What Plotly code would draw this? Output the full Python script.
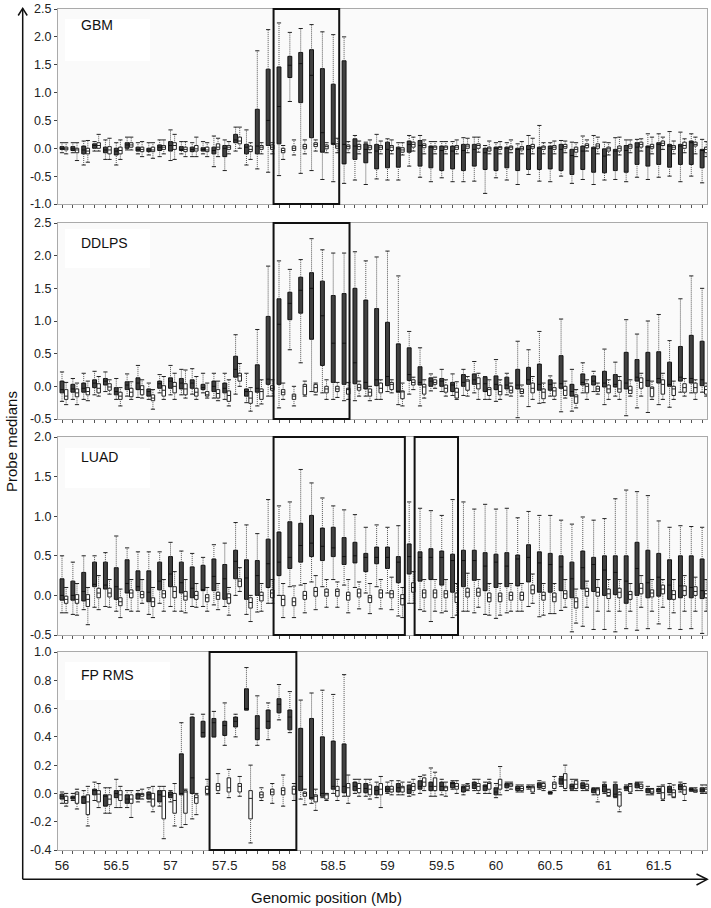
import plotly.graph_objects as go

# ---------------- data ----------------
positions = [56.0, 56.1, 56.2, 56.3, 56.4, 56.5, 56.6, 56.7, 56.8, 56.9,
             57.0, 57.1, 57.2, 57.3, 57.4, 57.5, 57.6, 57.7, 57.8, 57.9,
             58.0, 58.1, 58.2, 58.3, 58.4, 58.5, 58.6, 58.7, 58.8, 58.9,
             59.0, 59.1, 59.2, 59.3, 59.4, 59.5, 59.6, 59.7, 59.8, 59.9,
             60.0, 60.1, 60.2, 60.3, 60.4, 60.5, 60.6, 60.7, 60.8, 60.9,
             61.0, 61.1, 61.2, 61.3, 61.4, 61.5, 61.6, 61.7, 61.8, 61.9]

x_tick_vals = [56, 56.5, 57, 57.5, 58, 58.5, 59, 59.5, 60, 60.5, 61, 61.5]
x_tick_text = ["56", "56.5", "57", "57.5", "58", "58.5", "59", "59.5", "60", "60.5", "61", "61.5"]

# ---- GBM ----
gbm_t_q1 = [-0.02, -0.04, -0.1, 0.0, -0.08, -0.12, 0.0, -0.05, -0.06, -0.04, -0.05, -0.04, -0.06, -0.05, -0.1, -0.15, 0.1, -0.1, -0.1, 0.05,
            0.08, 1.27, 0.82, 0.19, -0.07, 0.07, -0.28, -0.2, -0.26, -0.37, -0.35, -0.34, -0.07, -0.32, -0.35, -0.4, -0.37, -0.4, -0.32, -0.38,
            -0.4, -0.35, -0.4, -0.38, -0.38, -0.37, -0.4, -0.47, -0.38, -0.43, -0.44, -0.4, -0.43, -0.29, -0.32, -0.29, -0.34, -0.29, -0.29, -0.35]
gbm_t_med = [0.0, -0.01, -0.03, 0.05, -0.03, -0.05, 0.06, -0.02, -0.03, 0.02, 0.05, -0.02, -0.02, -0.02, -0.04, 0.0, 0.15, 0.02, 0.04, 0.5,
             0.75, 1.49, 1.52, 1.31, 0.28, 0.07, 0.07, 0.04, -0.02, -0.05, -0.02, -0.01, 0.07, 0.05, 0.02, -0.04, -0.05, -0.04, -0.02, -0.08,
             0.0, 0.0, -0.02, -0.02, 0.0, 0.0, -0.02, -0.13, -0.05, 0.0, -0.14, -0.05, -0.04, 0.02, 0.02, 0.07, 0.04, 0.04, 0.1, -0.04]
gbm_t_q3 = [0.03, 0.03, 0.04, 0.08, 0.02, 0.0, 0.1, 0.02, 0.0, 0.06, 0.12, 0.03, 0.02, 0.01, 0.02, 0.05, 0.25, 0.07, 0.7, 1.42,
            1.46, 1.65, 1.72, 1.77, 1.43, 1.15, 1.57, 0.17, 0.08, 0.07, 0.11, 0.02, 0.13, 0.14, 0.04, 0.04, 0.04, 0.07, 0.07, 0.0,
            0.02, 0.02, 0.0, 0.05, 0.02, 0.04, 0.07, -0.02, 0.04, 0.02, -0.01, -0.02, 0.05, 0.1, 0.04, 0.1, 0.07, 0.07, 0.13, -0.02]
gbm_t_lo = [-0.08, -0.08, -0.3, -0.05, -0.2, -0.3, -0.03, -0.1, -0.12, -0.15, -0.22, -0.1, -0.15, -0.1, -0.33, -0.4, -0.05, -0.3, -0.37, -0.43,
            -0.49, 0.84, -0.45, -0.4, -0.56, -0.6, -0.63, -0.57, -0.65, -0.55, -0.57, -0.57, -0.32, -0.52, -0.6, -0.53, -0.6, -0.6, -0.59, -0.81,
            -0.53, -0.57, -0.65, -0.47, -0.59, -0.6, -0.5, -0.63, -0.56, -0.65, -0.57, -0.56, -0.6, -0.52, -0.56, -0.52, -0.5, -0.6, -0.5, -0.62]
gbm_t_hi = [0.1, 0.1, 0.13, 0.12, 0.15, 0.1, 0.2, 0.1, 0.1, 0.15, 0.33, 0.12, 0.1, 0.12, 0.22, 0.15, 0.38, 0.33, 1.75, 2.13,
            2.25, 2.08, 2.15, 2.22, 2.09, 2.04, 2.0, 0.23, 0.11, 0.25, 0.17, 0.1, 0.23, 0.23, 0.12, 0.12, 0.12, 0.19, 0.2, 0.05,
            0.1, 0.1, 0.08, 0.23, 0.41, 0.1, 0.14, 0.11, 0.22, 0.23, 0.11, 0.19, 0.15, 0.16, 0.26, 0.26, 0.3, 0.29, 0.26, 0.16]
gbm_n_q1 = [-0.03, -0.08, -0.1, 0.0, -0.1, -0.1, 0.02, -0.06, -0.06, -0.02, -0.02, -0.06, -0.05, -0.06, -0.02, -0.02, 0.08, -0.06, -0.02, -0.02,
            -0.08, -0.04, -0.01, 0.03, -0.01, 0.0, -0.01, -0.02, -0.02, -0.02, -0.04, -0.07, 0.02, 0.01, -0.02, -0.02, -0.02, 0.0, 0.0, -0.05,
            -0.02, -0.02, -0.03, 0.0, -0.02, -0.02, 0.0, -0.07, 0.01, 0.0, -0.05, -0.05, 0.0, 0.02, 0.0, 0.05, -0.02, 0.0, 0.04, -0.08]
gbm_n_med = [-0.01, -0.03, -0.05, 0.05, -0.03, -0.04, 0.06, -0.02, -0.03, 0.02, 0.05, -0.02, -0.01, -0.03, 0.02, 0.02, 0.13, -0.02, 0.02, 0.02,
             -0.04, 0.0, 0.03, 0.07, 0.03, 0.04, 0.03, 0.03, 0.02, 0.02, 0.02, -0.03, 0.07, 0.05, 0.02, 0.02, 0.02, 0.04, 0.05, -0.01,
             0.02, 0.02, 0.0, 0.03, 0.02, 0.02, 0.03, -0.02, 0.05, 0.04, -0.01, 0.0, 0.04, 0.07, 0.03, 0.09, 0.02, 0.05, 0.07, -0.02]
gbm_n_q3 = [0.02, 0.0, 0.0, 0.1, 0.03, 0.02, 0.1, 0.02, 0.02, 0.05, 0.1, 0.02, 0.05, 0.02, 0.08, 0.05, 0.2, 0.04, 0.05, 0.06,
            0.0, 0.04, 0.07, 0.1, 0.06, 0.08, 0.06, 0.07, 0.05, 0.05, 0.05, 0.01, 0.11, 0.08, 0.04, 0.04, 0.05, 0.07, 0.08, 0.02,
            0.03, 0.04, 0.03, 0.07, 0.04, 0.05, 0.07, 0.02, 0.08, 0.08, 0.02, 0.04, 0.07, 0.11, 0.07, 0.13, 0.05, 0.11, 0.11, 0.02]
gbm_n_lo = [-0.1, -0.22, -0.25, -0.05, -0.2, -0.2, -0.03, -0.15, -0.18, -0.1, -0.2, -0.15, -0.15, -0.15, -0.15, -0.1, 0.0, -0.2, -0.1, -0.1,
            -0.2, -0.12, -0.1, -0.05, -0.08, -0.08, -0.08, -0.1, -0.08, -0.1, -0.1, -0.12, -0.05, -0.1, -0.1, -0.1, -0.1, -0.08, -0.07, -0.1,
            -0.1, -0.08, -0.1, -0.1, -0.1, -0.1, -0.08, -0.15, -0.05, -0.1, -0.12, -0.12, -0.08, -0.05, -0.1, -0.02, -0.1, -0.08, -0.1, -0.15]
gbm_n_hi = [0.1, 0.1, 0.14, 0.25, 0.18, 0.15, 0.2, 0.12, 0.1, 0.15, 0.25, 0.12, 0.2, 0.1, 0.18, 0.12, 0.38, 0.1, 0.1, 0.1,
            0.05, 0.15, 0.15, 0.15, 0.1, 0.18, 0.12, 0.13, 0.15, 0.13, 0.15, 0.1, 0.2, 0.15, 0.12, 0.12, 0.15, 0.18, 0.2, 0.13,
            0.12, 0.15, 0.12, 0.18, 0.1, 0.13, 0.13, 0.1, 0.15, 0.2, 0.1, 0.2, 0.15, 0.17, 0.2, 0.2, 0.13, 0.17, 0.2, 0.12]

# ---- DDLPS ----
ddlps_t_q1 = [-0.1, -0.09, -0.09, -0.02, 0.02, -0.13, -0.05, -0.05, -0.15, -0.03, -0.03, -0.04, -0.03, -0.05, -0.08, -0.1, 0.14, -0.15, -0.09, 0.03,
              0.03, 1.02, 1.12, 0.72, 0.32, 0.06, 0.03, 0.04, -0.04, 0.01, 0.01, -0.09, 0.09, 0.02, 0.0, 0.0, -0.08, 0.0, 0.03, -0.08,
              -0.05, -0.04, -0.04, 0.03, -0.06, -0.06, -0.03, -0.15, 0.02, 0.02, -0.01, -0.01, -0.04, 0.08, 0.0, 0.05, 0.0, 0.08, 0.05, 0.01]
ddlps_t_med = [-0.05, -0.04, -0.03, 0.05, 0.08, -0.08, 0.02, 0.05, -0.08, 0.04, 0.08, 0.05, 0.05, -0.02, 0.0, -0.03, 0.26, -0.08, -0.03, 0.11,
               0.95, 1.27, 1.47, 1.5, 1.08, 0.66, 0.66, 0.36, 0.06, 0.1, 0.15, -0.08, 0.18, 0.06, 0.08, 0.08, 0.02, 0.06, 0.1, 0.04,
               0.03, 0.02, 0.02, 0.1, 0.03, 0.03, 0.04, -0.08, 0.06, 0.08, 0.05, 0.03, 0.05, 0.14, 0.09, 0.12, 0.03, 0.14, 0.12, 0.1]
ddlps_t_q3 = [0.08, 0.03, 0.05, 0.1, 0.12, -0.02, 0.07, 0.13, -0.04, 0.08, 0.13, 0.12, 0.1, 0.03, 0.08, 0.05, 0.46, -0.04, 0.33, 1.07,
              1.34, 1.44, 1.67, 1.74, 1.61, 1.39, 1.42, 1.5, 1.32, 1.19, 0.98, 0.65, 0.59, 0.3, 0.13, 0.12, 0.06, 0.18, 0.19, 0.14,
              0.16, 0.14, 0.26, 0.29, 0.34, 0.1, 0.47, 0.03, 0.19, 0.16, 0.23, 0.18, 0.52, 0.41, 0.52, 0.53, 0.37, 0.61, 0.78, 0.69]
ddlps_t_lo = [-0.23, -0.2, -0.2, -0.13, -0.08, -0.2, -0.15, -0.17, -0.2, -0.1, -0.13, -0.13, -0.12, -0.1, -0.18, -0.2, -0.12, -0.25, -0.3, -0.15,
              -0.33, 0.56, 0.36, -0.08, -0.1, -0.2, -0.22, -0.22, -0.15, -0.2, -0.08, -0.28, -0.12, -0.3, -0.07, -0.08, -0.14, -0.14, -0.1, -0.2,
              -0.23, -0.13, -0.48, -0.31, -0.26, -0.15, -0.39, -0.38, -0.1, -0.08, -0.28, -0.15, -0.45, -0.33, -0.4, -0.28, -0.32, -0.09, -0.1, -0.09]
ddlps_t_hi = [0.22, 0.12, 0.2, 0.23, 0.22, 0.12, 0.19, 0.32, 0.05, 0.18, 0.32, 0.26, 0.27, 0.2, 0.2, 0.2, 0.79, 0.2, 0.87, 1.84,
              1.92, 1.79, 1.94, 2.26, 2.09, 2.04, 2.04, 2.06, 1.92, 1.98, 2.07, 1.69, 0.84, 0.59, 0.19, 0.26, 0.19, 0.26, 0.38, 0.15,
              0.41, 0.2, 0.69, 0.56, 0.84, 0.16, 1.03, 0.26, 0.36, 0.23, 0.57, 0.37, 1.02, 0.8, 1.0, 1.1, 0.7, 1.34, 1.69, 1.5]
ddlps_n_q1 = [-0.2, -0.16, -0.13, -0.1, -0.06, -0.2, -0.16, -0.13, -0.22, -0.15, -0.1, -0.13, -0.15, -0.15, -0.18, -0.23, 0.08, -0.26, -0.2, -0.06,
              -0.13, -0.2, -0.13, -0.09, -0.1, -0.08, -0.12, -0.06, -0.15, -0.1, -0.05, -0.19, 0.02, -0.12, 0.03, -0.09, -0.18, -0.06, -0.04, -0.14,
              -0.13, -0.1, -0.11, -0.1, -0.19, -0.15, -0.14, -0.26, -0.1, -0.08, -0.1, -0.09, -0.11, -0.03, -0.16, -0.12, -0.14, -0.09, -0.1, -0.12]
ddlps_n_med = [-0.15, -0.1, -0.08, -0.03, -0.01, -0.15, -0.09, -0.05, -0.18, -0.06, 0.0, -0.04, -0.09, -0.13, -0.11, -0.14, 0.16, -0.18, -0.08, -0.03,
               -0.09, -0.15, 0.0, -0.02, -0.04, -0.04, -0.05, -0.02, -0.09, -0.03, 0.03, -0.08, 0.06, -0.01, 0.06, -0.03, -0.09, 0.08, 0.04, -0.05,
               -0.08, -0.06, -0.08, -0.03, -0.09, -0.07, -0.06, -0.16, 0.0, -0.04, -0.04, -0.04, -0.06, 0.06, -0.03, 0.03, -0.04, -0.02, -0.02, -0.05]
ddlps_n_q3 = [-0.05, -0.04, -0.02, 0.04, 0.04, -0.09, -0.03, 0.01, -0.13, 0.01, 0.06, 0.04, -0.03, -0.08, -0.05, -0.07, 0.2, -0.08, -0.04, 0.01,
              -0.05, -0.12, 0.03, 0.03, 0.0, 0.0, -0.03, 0.03, -0.04, 0.05, 0.06, -0.07, 0.1, 0.03, 0.1, 0.02, -0.03, 0.1, 0.13, -0.02,
              0.02, 0.0, -0.04, 0.05, -0.04, -0.02, 0.0, -0.13, 0.04, 0.0, 0.02, 0.09, 0.0, 0.13, -0.01, 0.1, 0.0, 0.04, 0.05, 0.0]
ddlps_n_lo = [-0.28, -0.28, -0.22, -0.15, -0.12, -0.3, -0.2, -0.18, -0.35, -0.2, -0.2, -0.18, -0.2, -0.18, -0.22, -0.3, 0.0, -0.38, -0.27, -0.15,
              -0.2, -0.3, -0.15, -0.13, -0.2, -0.17, -0.2, -0.15, -0.22, -0.2, -0.1, -0.3, -0.05, -0.18, -0.03, -0.15, -0.2, -0.15, -0.2, -0.2,
              -0.2, -0.15, -0.15, -0.2, -0.25, -0.2, -0.18, -0.33, -0.2, -0.12, -0.2, -0.2, -0.15, -0.15, -0.2, -0.2, -0.2, -0.15, -0.2, -0.15]
ddlps_n_hi = [0.06, 0.05, 0.08, 0.15, 0.1, -0.02, 0.07, 0.1, -0.05, 0.15, 0.2, 0.25, 0.15, 0.05, 0.08, 0.1, 0.35, -0.02, 0.1, 0.1,
              0.05, 0.0, 0.08, 0.05, 0.1, 0.06, 0.06, 0.08, 0.0, 0.1, 0.1, 0.05, 0.14, 0.1, 0.14, 0.1, 0.07, 0.15, 0.2, 0.1,
              0.1, 0.05, 0.02, 0.15, 0.05, 0.05, 0.08, -0.05, 0.1, 0.05, 0.1, 0.15, 0.1, 0.2, 0.08, 0.2, 0.08, 0.12, 0.1, 0.05]

# ---- LUAD ----
luad_t_q1 = [-0.06, -0.06, -0.07, 0.11, 0.08, -0.05, 0.03, 0.06, -0.08, 0.07, 0.11, 0.03, -0.03, 0.06, 0.06, -0.05, 0.21, -0.05, 0.0, 0.1,
             0.25, 0.34, 0.42, 0.49, 0.44, 0.49, 0.39, 0.41, 0.3, 0.4, 0.34, 0.16, 0.27, 0.18, 0.2, 0.13, 0.04, 0.11, 0.19, 0.06,
             0.1, 0.11, 0.12, 0.17, 0.04, 0.04, 0.06, -0.03, 0.08, 0.05, 0.0, 0.01, -0.1, 0.0, -0.03, -0.01, -0.05, -0.03, -0.03, -0.04]
luad_t_med = [0.0, 0.0, 0.05, 0.14, 0.13, 0.11, 0.15, 0.11, 0.04, 0.18, 0.27, 0.16, 0.09, 0.07, 0.24, 0.21, 0.43, 0.22, 0.25, 0.4,
              0.42, 0.48, 0.63, 0.66, 0.62, 0.6, 0.49, 0.5, 0.48, 0.48, 0.48, 0.42, 0.49, 0.48, 0.48, 0.48, 0.44, 0.44, 0.44, 0.37,
              0.42, 0.37, 0.46, 0.48, 0.41, 0.39, 0.36, 0.21, 0.35, 0.39, 0.32, 0.29, 0.18, 0.34, 0.16, 0.23, 0.13, 0.12, 0.1, 0.06]
luad_t_q3 = [0.21, 0.18, 0.29, 0.42, 0.42, 0.35, 0.45, 0.31, 0.31, 0.42, 0.49, 0.42, 0.36, 0.38, 0.46, 0.39, 0.57, 0.45, 0.44, 0.71,
             0.8, 0.93, 0.91, 1.01, 0.85, 0.86, 0.73, 0.67, 0.53, 0.61, 0.61, 0.49, 0.65, 0.55, 0.59, 0.56, 0.52, 0.57, 0.57, 0.54,
             0.52, 0.54, 0.51, 0.64, 0.55, 0.53, 0.5, 0.42, 0.56, 0.48, 0.5, 0.5, 0.5, 0.67, 0.57, 0.53, 0.45, 0.5, 0.5, 0.46]
luad_t_lo = [-0.22, -0.24, -0.18, -0.15, -0.14, -0.2, -0.18, -0.2, -0.24, -0.1, -0.14, -0.2, -0.14, -0.14, -0.12, -0.14, 0.0, -0.24, -0.21, -0.1,
             0.0, 0.11, 0.13, 0.17, 0.11, 0.2, 0.13, 0.1, 0.03, 0.11, 0.03, -0.26, -0.1, -0.18, -0.33, -0.22, -0.28, -0.2, -0.22, -0.24,
             -0.29, -0.22, -0.2, -0.14, -0.27, -0.23, -0.19, -0.46, -0.39, -0.43, -0.43, -0.46, -0.42, -0.44, -0.42, -0.36, -0.42, -0.43, -0.42, -0.48]
luad_t_hi = [0.5, 0.42, 0.5, 0.5, 0.54, 0.75, 0.6, 0.55, 0.55, 0.55, 0.67, 0.56, 0.53, 0.48, 0.64, 0.66, 0.92, 0.89, 0.78, 1.21,
             1.13, 1.18, 1.59, 1.42, 1.23, 1.13, 1.08, 1.02, 0.86, 0.89, 0.86, 0.88, 1.18, 1.1, 1.07, 1.01, 1.21, 1.18, 1.09, 1.15,
             1.09, 1.1, 0.98, 1.06, 1.01, 1.01, 0.95, 0.9, 0.99, 0.95, 0.97, 1.22, 1.33, 1.31, 1.26, 0.94, 0.86, 0.88, 0.87, 0.86]
luad_n_q1 = [-0.1, -0.1, -0.14, -0.03, -0.02, -0.13, -0.03, -0.03, -0.14, -0.03, -0.03, -0.06, -0.05, -0.08, -0.05, -0.1, 0.11, -0.16, -0.07, -0.03,
             -0.13, -0.13, -0.05, -0.01, -0.01, -0.01, -0.06, -0.02, -0.09, -0.03, -0.03, -0.12, 0.04, -0.03, -0.03, -0.03, -0.09, -0.02, -0.01, -0.08,
             -0.08, -0.06, -0.06, 0.02, -0.06, -0.08, -0.04, -0.16, -0.01, -0.01, -0.04, -0.03, -0.05, 0.02, -0.02, 0.02, -0.05, 0.0, 0.0, -0.03]
luad_n_med = [-0.05, -0.05, -0.05, 0.03, 0.03, -0.08, 0.03, 0.01, -0.08, 0.02, 0.05, -0.01, 0.0, -0.03, 0.0, -0.03, 0.18, -0.09, 0.0, 0.03,
              -0.05, -0.08, 0.0, 0.05, 0.04, 0.05, 0.0, 0.03, -0.03, 0.03, 0.02, -0.04, 0.1, 0.03, 0.03, 0.02, -0.02, 0.04, 0.04, -0.03,
              -0.01, 0.0, 0.0, 0.07, 0.0, -0.02, 0.02, -0.08, 0.05, 0.04, 0.02, 0.04, 0.01, 0.09, 0.03, 0.08, 0.01, 0.06, 0.05, 0.02]
luad_n_q3 = [-0.01, 0.01, 0.01, 0.09, 0.09, -0.03, 0.07, 0.05, -0.03, 0.06, 0.11, 0.05, 0.05, 0.01, 0.04, 0.02, 0.21, -0.03, 0.04, 0.07,
             0.0, -0.03, 0.05, 0.1, 0.08, 0.08, 0.04, 0.08, 0.0, 0.07, 0.06, 0.01, 0.16, 0.07, 0.07, 0.06, 0.03, 0.09, 0.09, 0.03,
             0.03, 0.04, 0.04, 0.13, 0.04, 0.03, 0.06, -0.03, 0.09, 0.1, 0.08, 0.09, 0.05, 0.15, 0.07, 0.13, 0.06, 0.12, 0.11, 0.06]
luad_n_lo = [-0.22, -0.25, -0.37, -0.18, -0.15, -0.28, -0.2, -0.1, -0.28, -0.2, -0.2, -0.22, -0.15, -0.2, -0.18, -0.25, 0.05, -0.33, -0.2, -0.1,
             -0.28, -0.28, -0.22, -0.18, -0.15, -0.15, -0.22, -0.17, -0.23, -0.17, -0.18, -0.28, -0.1, -0.2, -0.2, -0.2, -0.25, -0.2, -0.15, -0.25,
             -0.25, -0.2, -0.2, -0.1, -0.25, -0.23, -0.15, -0.35, -0.15, -0.2, -0.2, -0.2, -0.2, -0.15, -0.2, -0.15, -0.22, -0.2, -0.2, -0.2]
luad_n_hi = [0.1, 0.15, 0.1, 0.25, 0.2, 0.08, 0.2, 0.2, 0.1, 0.2, 0.3, 0.2, 0.15, 0.1, 0.15, 0.1, 0.35, 0.0, 0.15, 0.2,
             0.15, 0.12, 0.15, 0.25, 0.2, 0.17, 0.2, 0.17, 0.15, 0.2, 0.23, 0.1, 0.3, 0.2, 0.2, 0.2, 0.15, 0.28, 0.2, 0.15,
             0.15, 0.15, 0.15, 0.27, 0.15, 0.15, 0.2, 0.08, 0.18, 0.2, 0.2, 0.2, 0.15, 0.25, 0.2, 0.2, 0.2, 0.25, 0.23, 0.2]

# ---- FP RMS ----
fprms_t_q1 = [-0.04, -0.04, -0.07, -0.01, -0.09, -0.03, -0.07, -0.04, -0.04, -0.06, -0.03, -0.01, 0.0, 0.4, 0.4, 0.41, 0.47, 0.59, 0.38, 0.46,
              0.57, 0.45, 0.02, -0.04, -0.02, 0.03, 0.005, 0.02, 0.005, -0.01, 0.01, 0.01, 0.0, 0.03, 0.02, 0.02, 0.04, 0.01, 0.035, 0.02,
              -0.01, 0.04, 0.02, 0.04, 0.04, 0.0, 0.065, 0.03, 0.035, 0.005, 0.01, -0.025, 0.03, 0.04, 0.005, 0.01, 0.005, 0.025, 0.02, 0.01]
fprms_t_med = [-0.02, -0.03, -0.02, 0.02, -0.02, 0.0, -0.04, -0.01, -0.01, -0.01, -0.01, 0.0, 0.11, 0.43, 0.5, 0.48, 0.51, 0.6, 0.46, 0.51,
               0.63, 0.54, 0.12, -0.03, 0.0, 0.05, 0.05, 0.05, 0.035, 0.02, 0.03, 0.04, 0.03, 0.05, 0.05, 0.05, 0.07, 0.04, 0.06, 0.05,
               0.01, 0.06, 0.035, 0.05, 0.06, 0.005, 0.095, 0.05, 0.055, 0.025, 0.05, -0.005, 0.04, 0.06, 0.025, 0.03, 0.03, 0.05, 0.03, 0.025]
fprms_t_q3 = [-0.005, -0.02, -0.02, 0.03, -0.01, 0.02, -0.01, 0.0, 0.01, 0.02, 0.01, 0.28, 0.54, 0.51, 0.53, 0.51, 0.54, 0.74, 0.55, 0.59,
              0.67, 0.59, 0.46, 0.53, 0.4, 0.37, 0.35, 0.08, 0.07, 0.05, 0.05, 0.07, 0.06, 0.09, 0.08, 0.08, 0.08, 0.05, 0.08, 0.06,
              0.04, 0.07, 0.05, 0.05, 0.075, 0.01, 0.11, 0.065, 0.075, 0.035, 0.065, 0.065, 0.05, 0.075, 0.035, 0.035, 0.05, 0.065, 0.035, 0.04]
fprms_t_lo = [-0.07, -0.05, -0.07, -0.05, -0.14, -0.1, -0.1, -0.06, -0.06, -0.09, -0.06, -0.24, -0.18, 0.4, 0.4, 0.34, 0.4, 0.59, 0.34, 0.38,
              0.52, 0.43, -0.04, -0.07, -0.03, 0.0, -0.02, 0.0, -0.02, -0.03, 0.0, -0.01, -0.02, 0.0, -0.02, -0.01, 0.03, -0.01, 0.02, 0.0,
              -0.03, 0.02, 0.01, 0.03, 0.03, -0.005, 0.05, 0.02, 0.02, -0.01, 0.0, -0.03, 0.02, 0.02, -0.01, 0.0, -0.01, 0.01, 0.015, 0.0]
fprms_t_hi = [0.01, 0.0, 0.02, 0.08, 0.04, 0.1, 0.02, 0.02, 0.04, 0.05, 0.02, 0.5, 0.56, 0.56, 0.58, 0.64, 0.56, 0.89, 0.69, 0.64,
              0.77, 0.72, 0.66, 0.71, 0.73, 0.7, 0.84, 0.1, 0.1, 0.08, 0.08, 0.09, 0.08, 0.12, 0.18, 0.1, 0.09, 0.06, 0.1, 0.08,
              0.07, 0.08, 0.06, 0.06, 0.09, 0.015, 0.12, 0.1, 0.09, 0.04, 0.08, 0.08, 0.06, 0.08, 0.05, 0.05, 0.07, 0.08, 0.04, 0.06]
fprms_n_q1 = [-0.07, -0.07, -0.15, -0.06, -0.08, -0.05, -0.07, -0.02, -0.09, -0.18, -0.14, -0.14, -0.07, 0.0, 0.02, 0.01, 0.01, -0.18, -0.03, -0.01,
              -0.01, -0.005, -0.02, -0.06, -0.04, -0.02, -0.02, 0.005, -0.01, -0.01, 0.01, 0.01, 0.02, 0.05, 0.02, 0.02, 0.03, 0.03, 0.02, 0.03,
              0.03, 0.05, 0.02, 0.01, 0.035, 0.035, 0.035, 0.035, 0.03, -0.01, -0.015, -0.09, 0.01, 0.035, 0.0, -0.04, -0.025, -0.007, 0.01, 0.01]
fprms_n_med = [-0.05, -0.005, -0.06, -0.005, -0.04, -0.01, -0.04, -0.005, -0.04, -0.02, -0.05, 0.01, -0.03, 0.03, 0.05, 0.04, 0.05, -0.035, -0.01, 0.01,
               0.02, 0.03, 0.0, -0.02, -0.01, 0.02, 0.04, 0.035, 0.03, 0.03, 0.03, 0.04, 0.05, 0.08, 0.05, 0.04, 0.05, 0.05, 0.05, 0.07,
               0.06, 0.06, 0.035, 0.04, 0.05, 0.065, 0.095, 0.065, 0.05, 0.025, 0.007, -0.01, 0.05, 0.05, 0.01, 0.005, 0.005, 0.025, 0.02, 0.03]
fprms_n_q3 = [-0.02, 0.01, -0.01, 0.02, -0.01, 0.02, -0.01, 0.0, 0.0, 0.02, 0.0, 0.02, -0.01, 0.05, 0.07, 0.11, 0.07, 0.02, 0.01, 0.03,
              0.04, 0.05, 0.01, -0.01, 0.0, 0.05, 0.07, 0.07, 0.06, 0.07, 0.05, 0.05, 0.07, 0.11, 0.11, 0.05, 0.07, 0.06, 0.07, 0.08,
              0.1, 0.07, 0.05, 0.05, 0.07, 0.08, 0.14, 0.09, 0.065, 0.035, 0.025, 0.01, 0.065, 0.065, 0.03, 0.05, 0.025, 0.05, 0.03, 0.04]
fprms_n_lo = [-0.09, -0.11, -0.23, -0.1, -0.14, -0.1, -0.17, -0.04, -0.13, -0.32, -0.23, -0.22, -0.15, -0.01, 0.0, -0.03, -0.02, -0.35, -0.05, -0.07,
              -0.09, -0.05, -0.08, -0.12, -0.05, -0.05, -0.07, -0.02, -0.04, -0.1, -0.01, -0.01, -0.01, 0.02, -0.02, -0.02, 0.0, 0.02, 0.0, 0.0,
              -0.01, 0.03, 0.01, 0.0, 0.02, 0.02, 0.02, 0.02, 0.02, -0.06, -0.02, -0.13, 0.0, 0.02, -0.01, -0.05, -0.03, -0.05, 0.01, 0.0]
fprms_n_hi = [0.0, 0.03, 0.05, 0.07, 0.04, 0.05, 0.02, 0.03, 0.05, 0.05, 0.07, 0.03, 0.0, 0.1, 0.14, 0.17, 0.12, 0.2, 0.04, 0.07,
              0.13, 0.07, 0.03, 0.03, 0.0, 0.1, 0.13, 0.1, 0.1, 0.12, 0.09, 0.08, 0.1, 0.13, 0.15, 0.08, 0.09, 0.07, 0.1, 0.1,
              0.19, 0.08, 0.06, 0.06, 0.08, 0.12, 0.2, 0.1, 0.09, 0.04, 0.03, 0.03, 0.07, 0.08, 0.035, 0.06, 0.06, 0.07, 0.04, 0.06]

gbm_ytick_vals = [-1.0, -0.5, 0.0, 0.5, 1.0, 1.5, 2.0, 2.5]
gbm_ytick_text = ["-1.0", "-0.5", "0.0", "0.5", "1.0", "1.5", "2.0", "2.5"]
ddlps_ytick_vals = [-0.5, 0.0, 0.5, 1.0, 1.5, 2.0, 2.5]
ddlps_ytick_text = ["-0.5", "0.0", "0.5", "1.0", "1.5", "2.0", "2.5"]
luad_ytick_vals = [-0.5, 0.0, 0.5, 1.0, 1.5, 2.0]
luad_ytick_text = ["-0.5", "0.0", "0.5", "1.0", "1.5", "2.0"]
fprms_ytick_vals = [-0.4, -0.2, 0.0, 0.2, 0.4, 0.6, 0.8, 1.0]
fprms_ytick_text = ["-0.4", "-0.2", "0.0", "0.2", "0.4", "0.6", "0.8", "1.0"]

gbm_regions = [(57.95, 58.555)]
ddlps_regions = [(57.95, 58.65)]
luad_regions = [(57.95, 59.16), (59.25, 59.65)]
fprms_regions = [(57.36, 58.16)]

# ---------------- layout helpers ----------------
W, H = 711, 908
FONT = "Liberation Sans, Arial, Helvetica, sans-serif"
X_LEFT, X_RIGHT = 58, 707
X_RANGE = [55.963, 61.945]


def px(xp):
    return xp / W


def py(yp):
    return 1 - yp / H


panels = [
    dict(name="GBM", top=9, bot=204, yr=[-1.0, 2.5], tv=gbm_ytick_vals, tt=gbm_ytick_text, reg=gbm_regions,
         t=(gbm_t_q1, gbm_t_med, gbm_t_q3, gbm_t_lo, gbm_t_hi),
         n=(gbm_n_q1, gbm_n_med, gbm_n_q3, gbm_n_lo, gbm_n_hi),
         lab=(10, 52, 16, 150)),
    dict(name="DDLPS", top=223, bot=419, yr=[-0.5, 2.5], tv=ddlps_ytick_vals, tt=ddlps_ytick_text, reg=ddlps_regions,
         t=(ddlps_t_q1, ddlps_t_med, ddlps_t_q3, ddlps_t_lo, ddlps_t_hi),
         n=(ddlps_n_q1, ddlps_n_med, ddlps_n_q3, ddlps_n_lo, ddlps_n_hi),
         lab=(6, 45, 20, 150)),
    dict(name="LUAD", top=437, bot=635, yr=[-0.5, 2.0], tv=luad_ytick_vals, tt=luad_ytick_text, reg=luad_regions,
         t=(luad_t_q1, luad_t_med, luad_t_q3, luad_t_lo, luad_t_hi),
         n=(luad_n_q1, luad_n_med, luad_n_q3, luad_n_lo, luad_n_hi),
         lab=(11, 51, 20, 150)),
    dict(name="FP RMS", top=652, bot=850, yr=[-0.4, 1.0], tv=fprms_ytick_vals, tt=fprms_ytick_text, reg=fprms_regions,
         t=(fprms_t_q1, fprms_t_med, fprms_t_q3, fprms_t_lo, fprms_t_hi),
         n=(fprms_n_q1, fprms_n_med, fprms_n_q3, fprms_n_lo, fprms_n_hi),
         lab=(10, 48, 23, 170)),
]

T_OFF, N_OFF = 0.0, 0.038
T_W, N_W = 0.036, 0.032

fig = go.Figure()
layout = dict(
    width=W, height=H, margin=dict(l=0, r=0, t=0, b=0, pad=0, autoexpand=False),
    paper_bgcolor="white", plot_bgcolor="#fafafa",
    showlegend=False, boxmode="overlay",
    font=dict(family=FONT, color="#222"),
)
shapes = []
annotations = []


def whisker_xy(xs, q1, q3, lo, hi):
    wx, wy, cx, cy = [], [], [], []
    for x, a, b, l, h in zip(xs, q1, q3, lo, hi):
        l = min(l, a)
        h = max(h, b)
        wx += [x, x, None, x, x, None]
        wy += [l, a, None, b, h, None]
        cx += [x, x]
        cy += [l, h]
    return wx, wy, cx, cy


for i, p in enumerate(panels, start=1):
    xa = "x" if i == 1 else f"x{i}"
    ya = "y" if i == 1 else f"y{i}"
    for stats, off, wdt, fill, lc in ((p["t"], T_OFF, T_W, "#404040", "#111111"),
                                       (p["n"], N_OFF, N_W, "#ffffff", "#222222")):
        q1, med, q3, lo, hi = stats
        xs = [v + off for v in positions]
        wx, wy, cx, cy = whisker_xy(xs, q1, q3, lo, hi)
        fig.add_trace(go.Scatter(x=wx, y=wy, mode="lines", xaxis=xa, yaxis=ya,
                                 line=dict(color="#555555", width=1, dash="1px,1px"),
                                 hoverinfo="skip"))
        fig.add_trace(go.Scatter(x=cx, y=cy, mode="markers", xaxis=xa, yaxis=ya,
                                 marker=dict(symbol="line-ew", size=3, color="#222",
                                             line=dict(color="#222", width=1)),
                                 hoverinfo="skip"))
        fig.add_trace(go.Box(x=xs, q1=q1, median=med, q3=q3, lowerfence=q1, upperfence=q3,
                             xaxis=xa, yaxis=ya, width=wdt, fillcolor=fill,
                             line=dict(color=lc, width=1), whiskerwidth=0,
                             hoverinfo="skip"))

    dom_y = [py(p["bot"]), py(p["top"])]
    xkey = "xaxis" if i == 1 else f"xaxis{i}"
    ykey = "yaxis" if i == 1 else f"yaxis{i}"
    layout[xkey] = dict(
        domain=[px(X_LEFT), px(X_RIGHT)], range=X_RANGE, anchor=ya, automargin=False,
        tickmode="array", tickvals=x_tick_vals, ticktext=x_tick_text,
        showticklabels=(i == 4), ticks="outside", ticklen=3, tickcolor="#555",
        tickfont=dict(size=13, color="#222", family=FONT),
        minor=dict(tickmode="array", tickvals=positions, ticks="outside", ticklen=3, tickcolor="#555"),
        showline=True, mirror=True, linecolor="#aaaaaa", linewidth=1,
        showgrid=False, zeroline=False, fixedrange=True,
    )
    layout[ykey] = dict(
        domain=dom_y, range=p["yr"], anchor=xa, automargin=False,
        tickmode="array", tickvals=p["tv"], ticktext=p["tt"],
        ticks="outside", ticklen=3, tickcolor="#444",
        tickfont=dict(size=12.5, color="#222", family=FONT),
        showline=True, mirror=True, linecolor="#aaaaaa", linewidth=1,
        showgrid=False, zeroline=False, fixedrange=True,
    )

    # white label box + label
    ph = p["bot"] - p["top"]
    r_top, r_bot, t_c, r_right = p["lab"]
    shapes.append(dict(type="rect", xref=f"{xa} domain", yref=f"{ya} domain",
                       x0=(65 - X_LEFT) / (X_RIGHT - X_LEFT), x1=(r_right - X_LEFT) / (X_RIGHT - X_LEFT),
                       y0=1 - r_bot / ph, y1=1 - r_top / ph,
                       fillcolor="white", line=dict(width=0), layer="below"))
    annotations.append(dict(text=p["name"], xref=f"{xa} domain", yref=f"{ya} domain",
                            x=(79 - X_LEFT) / (X_RIGHT - X_LEFT), y=1 - t_c / ph,
                            xanchor="left", yanchor="middle", showarrow=False,
                            font=dict(size=14, color="#111", family=FONT)))
    # highlight regions
    for (a, b) in p["reg"]:
        shapes.append(dict(type="rect", xref=xa, yref=f"{ya} domain", x0=a, x1=b, y0=0, y1=1,
                           line=dict(color="#111", width=2), fillcolor="rgba(0,0,0,0)", layer="above"))

# axis arrows
AX_X, AX_Y = 22.7, 879.3
shapes.append(dict(type="line", xref="paper", yref="paper", x0=px(AX_X), x1=px(AX_X),
                   y0=py(AX_Y), y1=py(8.5), line=dict(color="#111", width=1.5)))
shapes.append(dict(type="line", xref="paper", yref="paper", x0=px(AX_X), x1=px(707),
                   y0=py(AX_Y), y1=py(AX_Y), line=dict(color="#111", width=1.5)))
shapes.append(dict(type="path", xref="paper", yref="paper",
                   path=f"M {px(18.2)},{py(15.5)} L {px(AX_X)},{py(8.3)} L {px(27.2)},{py(15.5)}",
                   line=dict(color="#111", width=1.5)))
shapes.append(dict(type="path", xref="paper", yref="paper",
                   path=f"M {px(696.5)},{py(874.0)} L {px(707.2)},{py(AX_Y)} L {px(696.5)},{py(885.0)}",
                   line=dict(color="#111", width=1.5)))

annotations.append(dict(text="Probe medians", xref="paper", yref="paper", x=px(11), y=py(442),
                        textangle=-90, showarrow=False, xanchor="center", yanchor="middle",
                        font=dict(size=15, color="#111", family=FONT)))
annotations.append(dict(text="Genomic position (Mb)", xref="paper", yref="paper", x=px(326), y=py(897),
                        showarrow=False, xanchor="center", yanchor="middle",
                        font=dict(size=15, color="#111", family=FONT)))

layout["shapes"] = shapes
layout["annotations"] = annotations
fig.update_layout(**layout)
# remove the browser's default 8px page margin so the figure sits at the window's corner
fig.write_html("out.html", config={"displayModeBar": False},
               post_script="document.body.style.margin='0px';")
